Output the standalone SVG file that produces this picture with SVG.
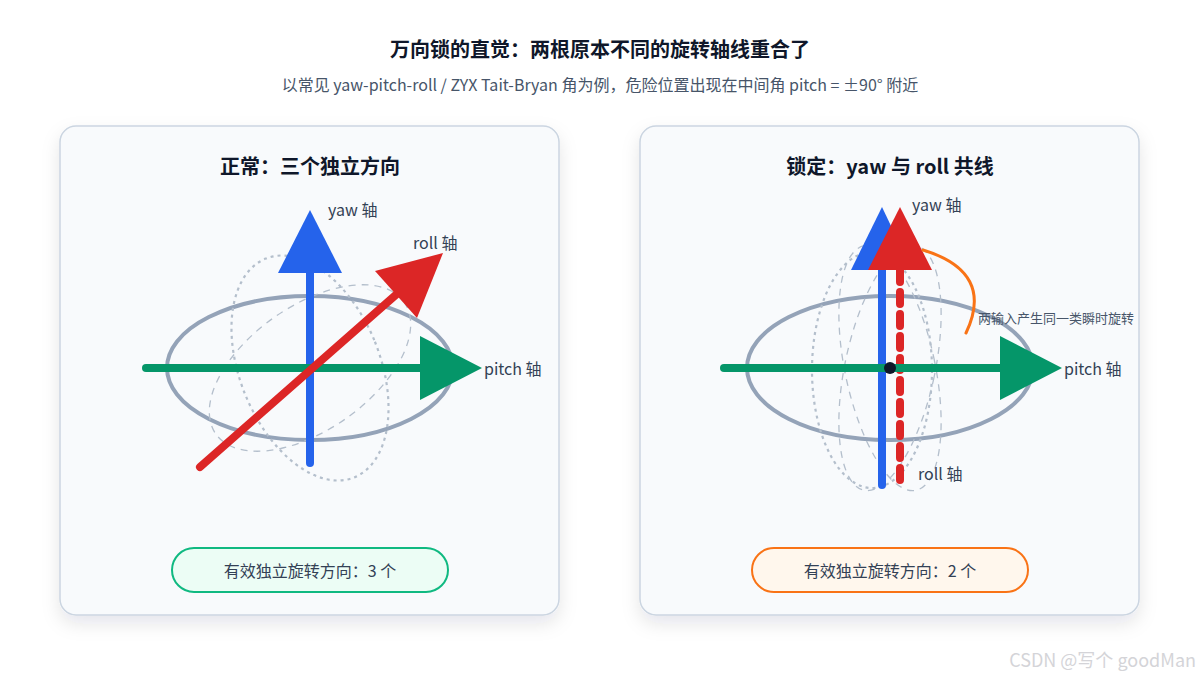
<svg xmlns="http://www.w3.org/2000/svg" width="1200" height="680" viewBox="0 0 1200 680">
<style>
text{font-family:"Noto Sans CJK SC","Liberation Sans",sans-serif;fill:#1e293b}
.t{font-size:20px;font-weight:bold;fill:#0f172a}
.lab{font-size:16px;fill:#334155}
.panel{fill:#f8fafc;stroke:#cbd5e1;stroke-width:1.5}
.gim{fill:none;stroke:#94a3b8;stroke-width:4}
.d1{fill:none;stroke:#b4bfcc;stroke-width:2.2;stroke-dasharray:3 4}
.d2{fill:none;stroke:#b4bfcc;stroke-width:1.3;stroke-dasharray:7 6}
</style>
<defs><filter id="sh" x="-10%" y="-10%" width="120%" height="125%"><feDropShadow dx="0" dy="8" stdDeviation="9" flood-color="#0f172a" flood-opacity="0.1"/></filter></defs>
<rect width="1200" height="680" fill="#fff"/>
<text x="600" y="57" text-anchor="middle" class="t">万向锁的直觉：两根原本不同的旋转轴线重合了</text>
<text x="600" y="91" text-anchor="middle" style="font-size:16px;fill:#475569">以常见 yaw-pitch-roll / ZYX Tait-Bryan 角为例，危险位置出现在中间角 pitch = ±90° 附近</text>
<g id="panel-left">
<rect x="60" y="126" width="499" height="489" rx="16" class="panel" filter="url(#sh)"/>
<text x="310" y="174" text-anchor="middle" class="t">正常：三个独立方向</text>
<ellipse cx="310" cy="368" rx="143" ry="72" class="gim"/>
<ellipse cx="310" cy="368" rx="70" ry="118" transform="rotate(-22 310 368)" class="d1"/>
<ellipse cx="310" cy="368" rx="115" ry="62" transform="rotate(-35 310 368)" class="d2"/>
<line x1="310" y1="463" x2="310" y2="272" stroke="#2563eb" stroke-width="8" stroke-linecap="round"/>
<polygon points="310,210 342,273 278,273" fill="#2563eb"/>
<line x1="146" y1="368" x2="422" y2="368" stroke="#059669" stroke-width="8" stroke-linecap="round"/>
<polygon points="482,368 420,336 420,400" fill="#059669"/>
<line x1="200" y1="467" x2="398" y2="293" stroke="#dc2626" stroke-width="8" stroke-linecap="round"/>
<polygon points="443,253 375,271 417,318" fill="#dc2626"/>
<text x="328" y="216" class="lab">yaw 轴</text>
<text x="413" y="249" class="lab">roll 轴</text>
<text x="484" y="375" class="lab">pitch 轴</text>
<rect x="172" y="548" width="276" height="44" rx="22" fill="#ecfdf5" stroke="#10b981" stroke-width="2"/>
<text x="310" y="577" text-anchor="middle" class="lab">有效独立旋转方向：3 个</text>
</g>
<g id="panel-right">
<rect x="640" y="126" width="499" height="489" rx="16" class="panel" filter="url(#sh)"/>
<text x="890" y="174" text-anchor="middle" class="t">锁定：yaw 与 roll 共线</text>
<ellipse cx="890" cy="368" rx="143" ry="72" class="gim"/>
<ellipse cx="872" cy="370" rx="60" ry="118" class="d1"/>
<ellipse cx="890" cy="368" rx="45" ry="125" transform="rotate(-12 890 368)" class="d2"/>
<ellipse cx="890" cy="368" rx="45" ry="125" transform="rotate(12 890 368)" class="d2"/>
<line x1="882" y1="485" x2="882" y2="268" stroke="#2563eb" stroke-width="8" stroke-linecap="round"/>
<polygon points="882,207 912,270 851,270" fill="#2563eb"/>
<line x1="900" y1="480" x2="900" y2="270" stroke="#dc2626" stroke-width="8" stroke-linecap="round" stroke-dasharray="12 10"/>
<polygon points="900,207 932,270 868,270" fill="#dc2626"/>
<line x1="724" y1="368" x2="1002" y2="368" stroke="#059669" stroke-width="8" stroke-linecap="round"/>
<polygon points="1062,368 1000,336 1000,400" fill="#059669"/>
<circle cx="890" cy="368" r="6" fill="#0f172a"/>
<path d="M923,250 Q995,272 966,333" fill="none" stroke="#f97316" stroke-width="3" stroke-linecap="round"/>
<text x="978" y="323" style="font-size:13px;fill:#475569">两输入产生同一类瞬时旋转</text>
<text x="912" y="211" class="lab">yaw 轴</text>
<text x="918" y="480" class="lab">roll 轴</text>
<text x="1064" y="375" class="lab">pitch 轴</text>
<rect x="752" y="548" width="276" height="44" rx="22" fill="#fff7ed" stroke="#f97316" stroke-width="2"/>
<text x="890" y="577" text-anchor="middle" class="lab">有效独立旋转方向：2 个</text>
</g>
<text x="1196" y="667" text-anchor="end" style="font-size:18px;fill:#d4d4d8">CSDN @写个 goodMan</text>
</svg>
